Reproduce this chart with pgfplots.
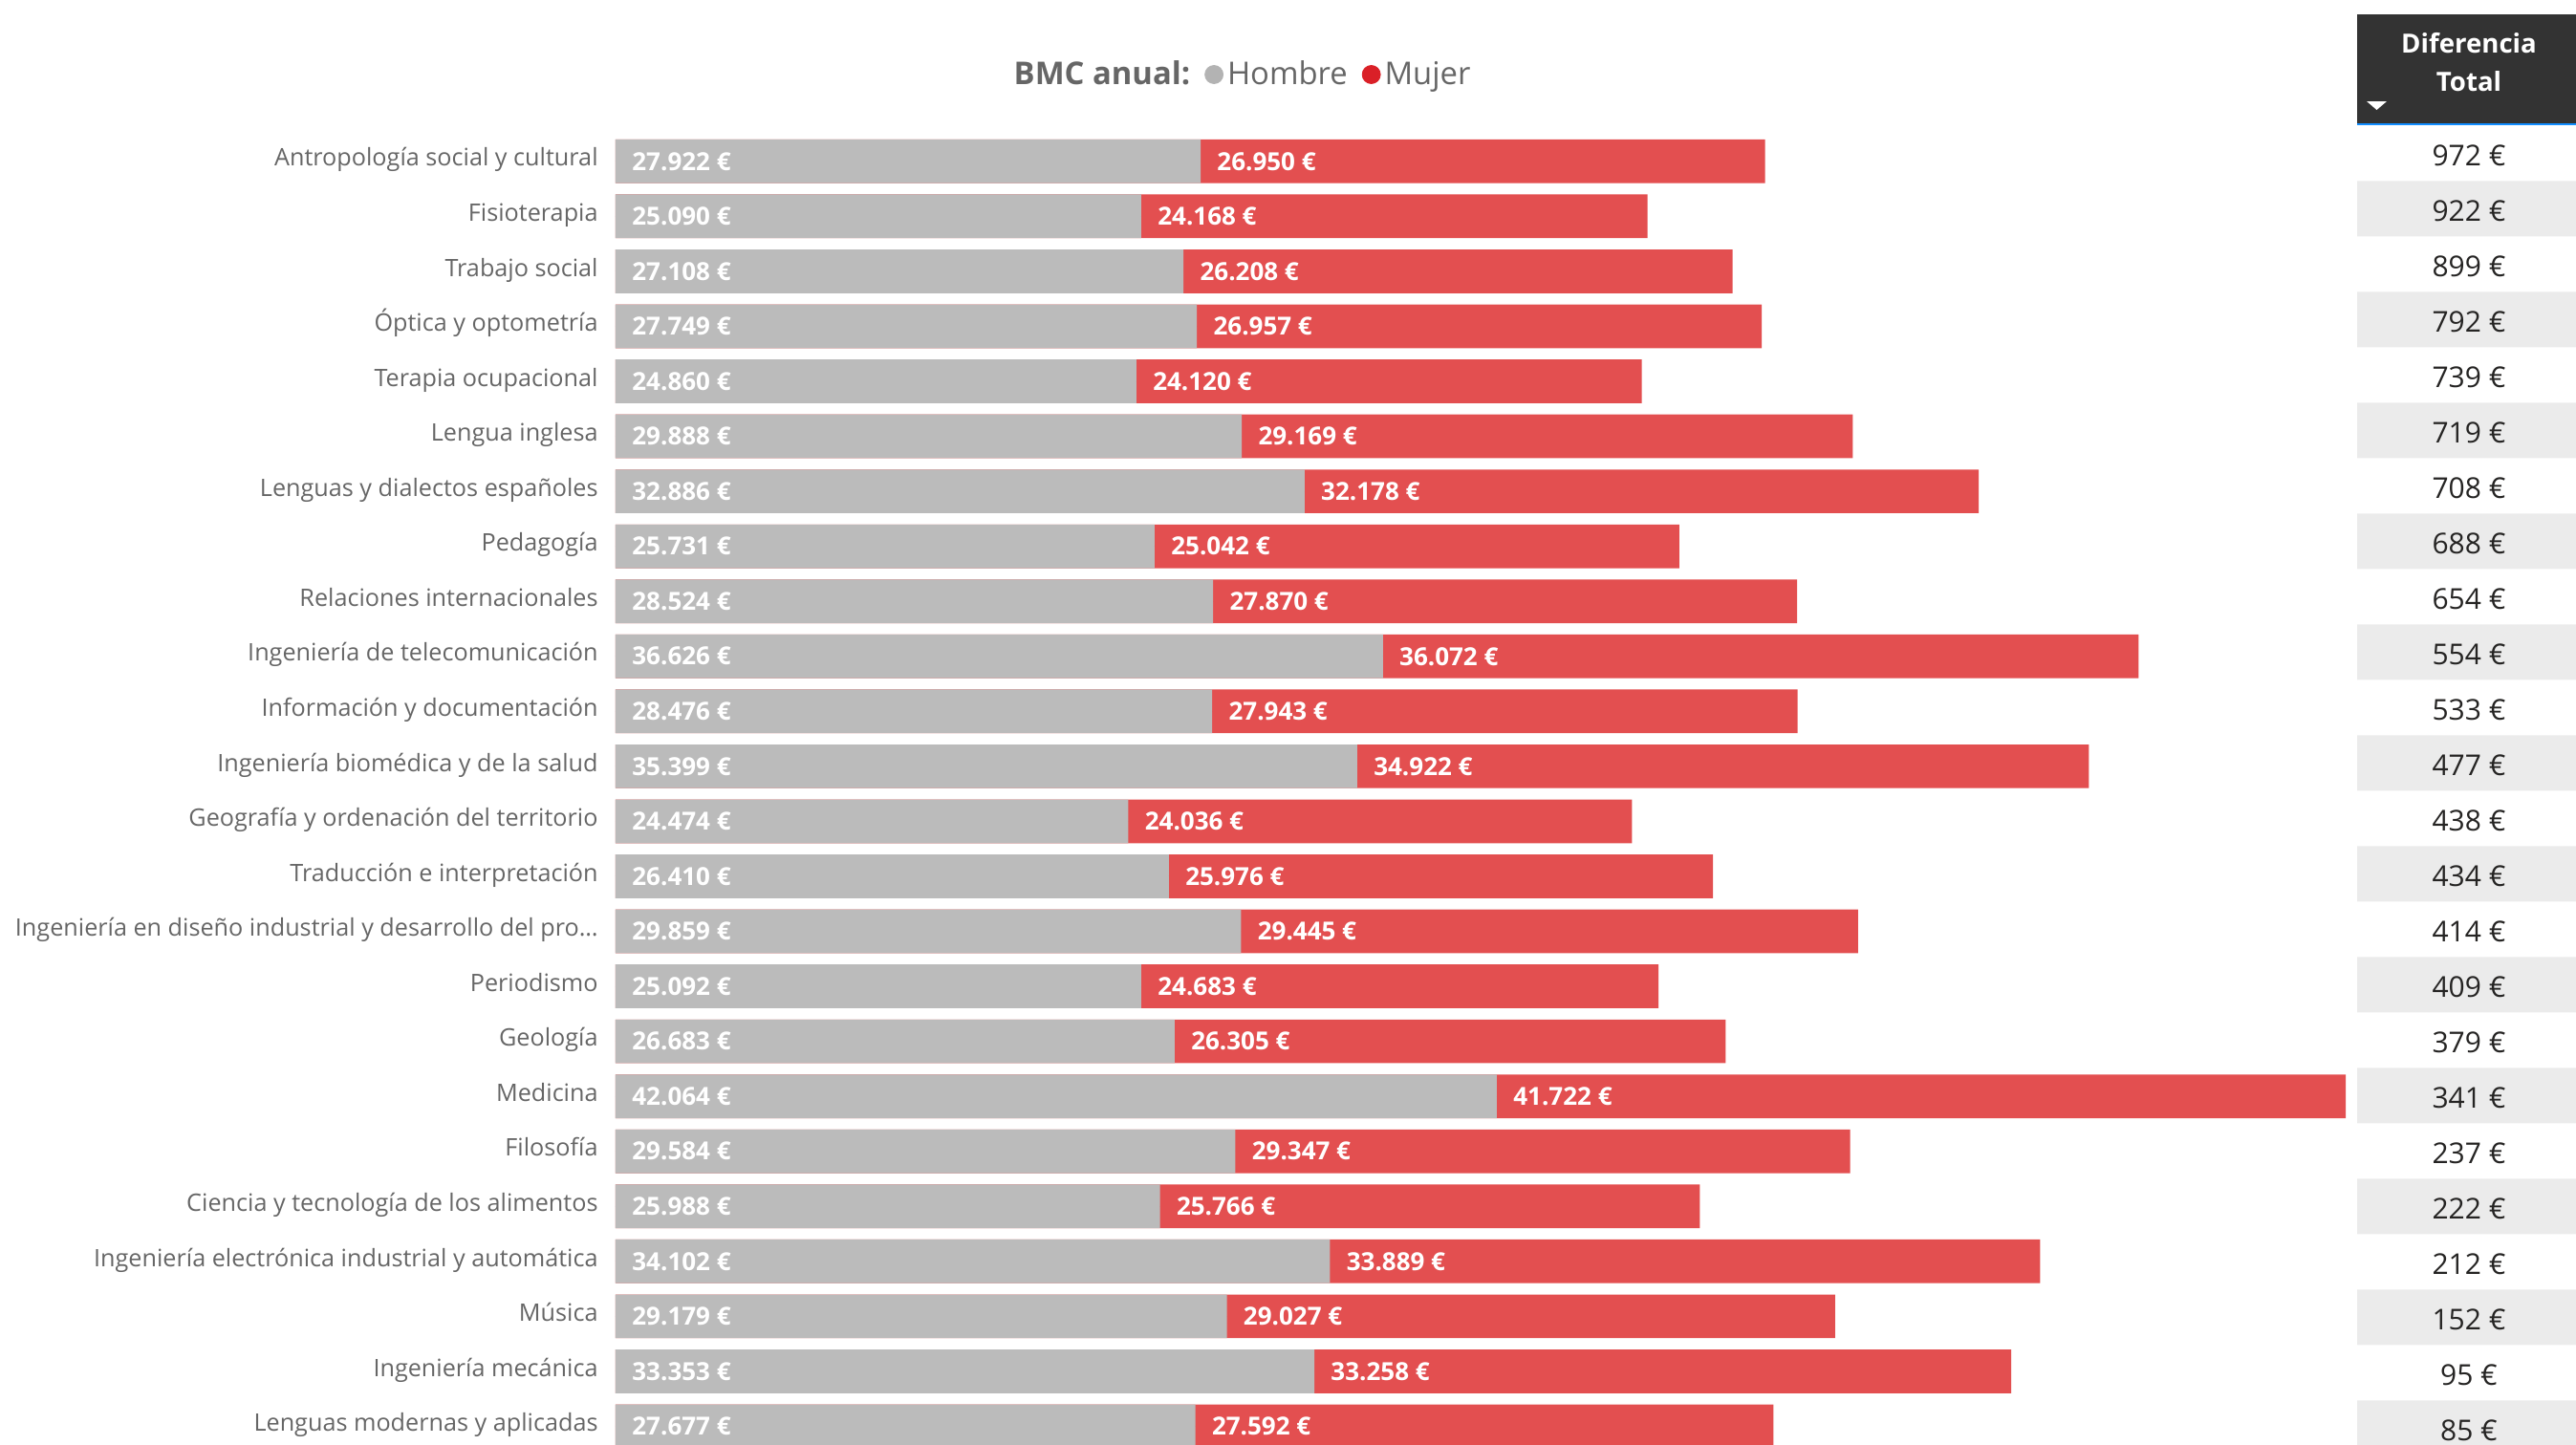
\documentclass[border=0pt]{standalone}
\usepackage{fontspec}
\setmainfont{Open Sans}
\usepackage{pgfplots}
\usepackage{pgfplotstable}
\pgfplotsset{compat=1.18}

\definecolor{bargray}{HTML}{BBBBBB}
\definecolor{barred}{HTML}{E34F50}
\definecolor{labgray}{HTML}{666666}
\definecolor{leggray}{HTML}{B3B3B3}
\definecolor{legred}{HTML}{DA2027}
\definecolor{rowgray}{HTML}{EBEBEB}
\definecolor{hdr}{HTML}{333333}
\definecolor{hdrline}{HTML}{118DFF}
\definecolor{tabtext}{HTML}{252423}

\newcommand\catfont{\fontsize{12.6pt}{15pt}\selectfont}
\newcommand\barfont{\fontsize{13pt}{15pt}\selectfont\bfseries}
\newcommand\tabfont{\fontsize{15pt}{18pt}\selectfont}
\newcommand\legfont{\fontsize{16.4pt}{19pt}\selectfont}

% BMC anual por titulacion: hombre, mujer, diferencia
\pgfplotstableread[col sep=semicolon]{
idx;h;m;d;name
0;27922;26950;972;Antropología social y cultural
1;25090;24168;922;Fisioterapia
2;27108;26208;899;Trabajo social
3;27749;26957;792;Óptica y optometría
4;24860;24120;739;Terapia ocupacional
5;29888;29169;719;Lengua inglesa
6;32886;32178;708;Lenguas y dialectos españoles
7;25731;25042;688;Pedagogía
8;28524;27870;654;Relaciones internacionales
9;36626;36072;554;Ingeniería de telecomunicación
10;28476;27943;533;Información y documentación
11;35399;34922;477;Ingeniería biomédica y de la salud
12;24474;24036;438;Geografía y ordenación del territorio
13;26410;25976;434;Traducción e interpretación
14;29859;29445;414;Ingeniería en diseño industrial y desarrollo del pro…
15;25092;24683;409;Periodismo
16;26683;26305;379;Geología
17;42064;41722;341;Medicina
18;29584;29347;237;Filosofía
19;25988;25766;222;Ciencia y tecnología de los alimentos
20;34102;33889;212;Ingeniería electrónica industrial y automática
21;29179;29027;152;Música
22;33353;33258;95;Ingeniería mecánica
23;27677;27592;85;Lenguas modernas y aplicadas
}\data

\pgfplotsset{
  barlabel/.style={
    only marks, mark=*, mark size=0pt, mark options={draw=none,fill=none},
    forget plot, point meta=explicit,
    nodes near coords={\pgfmathprintnumber[fixed,precision=0,1000 sep={.},assume math mode=true]{\pgfplotspointmeta}~€},
    every node near coord/.append style={anchor=west, xshift=8.5pt, font=\barfont, text=white, inner sep=0pt},
  },
}

\begin{document}
\begin{tikzpicture}
\path[use as bounding box] (0,0) rectangle (1347.5pt,-755.5pt);

\begin{axis}[
  at={(322pt,-70pt)}, anchor=north west,
  scale only axis, width=905pt, height=690.6pt,
  xmin=0, xmax=82578, ymin=-0.5, ymax=23.5, y dir=reverse,
  axis line style={draw=none}, major tick length=0pt,
  xtick=\empty, ytick={0,...,23},
  yticklabels from table={\data}{name},
  yticklabel style={font=\catfont, text=labgray, anchor=east, inner sep=0pt,
    text height=8pt, text depth=2.8pt, xshift=-9pt},
  legend columns=-1,
  legend style={draw=none, fill=none, font=\legfont, text=labgray,
    at={(axis description cs:0.3622,1.0449)}, anchor=center,
    nodes={inner sep=2pt}, cells={anchor=west},
    /tikz/every even column/.append style={column sep=5.5pt}},
]
\addlegendimage{empty legend}
\addlegendentry{\textbf{BMC anual:}}
\addlegendimage{legend image code/.code={\fill[leggray] (0pt,0pt) circle (4.75pt);}}
\addlegendentry{Hombre}
\addlegendimage{legend image code/.code={\fill[legred] (0pt,0pt) circle (4.75pt);}}
\addlegendentry{Mujer}

% total (mujer encima de hombre), luego hombre por encima
\addplot[xbar, bar shift=0pt, bar width=22.85pt, fill=barred, draw=none, forget plot]
  table[x expr=\thisrow{h}+\thisrow{m}, y=idx]{\data};
\addplot[xbar, bar shift=0pt, bar width=22.85pt, fill=bargray, draw=none, forget plot]
  table[x=h, y=idx]{\data};

\addplot[barlabel] table[x expr=0, y=idx, meta=h]{\data};
\addplot[barlabel] table[x=h, y=idx, meta=m]{\data};
\end{axis}

% tabla Diferencia Total
\begin{axis}[
  at={(1233pt,-65.65pt)}, anchor=north west,
  scale only axis, width=117pt, height=696pt,
  xmin=0, xmax=1, ymin=-0.5, ymax=23.5, y dir=reverse,
  hide axis,
]
\addplot[xbar, bar shift=0pt, bar width=29pt, fill=rowgray, draw=none,
  x filter/.expression={mod(\coordindex,2)==1 ? x : nan}]
  table[x expr=1, y=idx]{\data};
\addplot[only marks, mark=*, mark size=0pt, mark options={draw=none,fill=none},
  point meta=explicit,
  nodes near coords={\pgfmathprintnumber[fixed,precision=0,assume math mode=true]{\pgfplotspointmeta}~€},
  every node near coord/.append style={anchor=center, yshift=-1.1pt, font=\tabfont, text=tabtext, inner sep=0pt}]
  table[x expr=0.5, y=idx, meta=d]{\data};
\end{axis}

\fill[hdr] (1233pt,-7.5pt) rectangle (1350pt,-64.65pt);
\fill[hdrline] (1233pt,-64.65pt) rectangle (1350pt,-65.65pt);
\node[anchor=base, text=white, font=\fontsize{13.8pt}{17pt}\selectfont\bfseries, inner sep=0pt] at (1291.5pt,-27.5pt) {Diferencia};
\node[anchor=base, text=white, font=\fontsize{13.8pt}{17pt}\selectfont\bfseries, inner sep=0pt] at (1291.5pt,-47.5pt) {Total};
\fill[white] (1238pt,-53pt) -- (1248.5pt,-53pt) -- (1243.25pt,-57.5pt) -- cycle;
\end{tikzpicture}
\end{document}
